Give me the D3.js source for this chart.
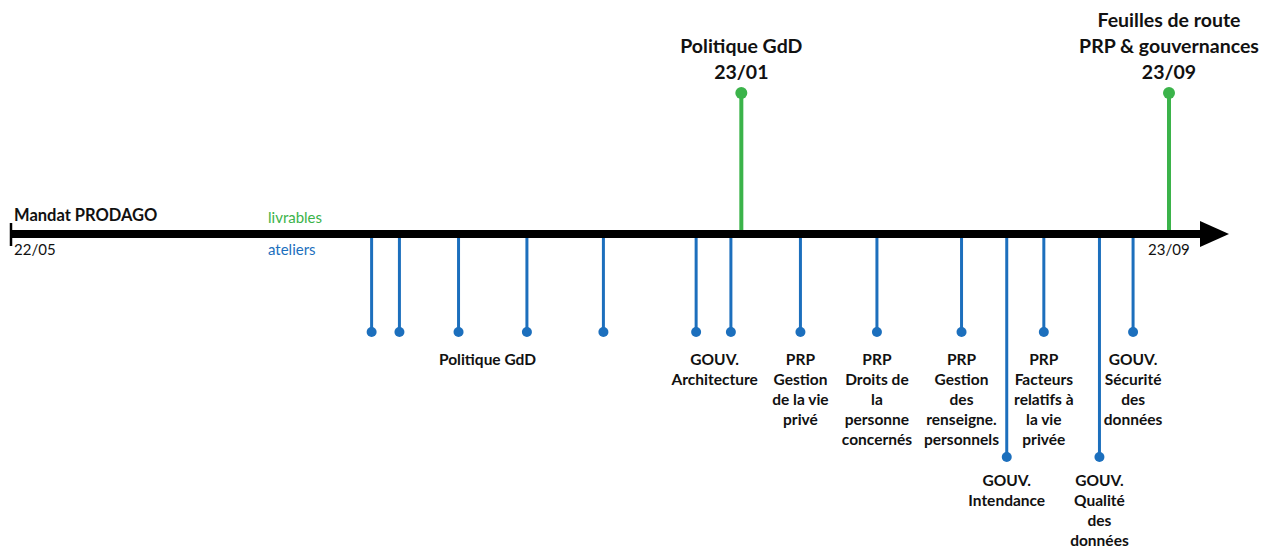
<!DOCTYPE html>
<html>
<head>
<meta charset="utf-8">
<script src="https://cdn.jsdelivr.net/npm/d3@7"></script>
<style>
    body { margin: 0; background: #fff; }
    svg text { font-family: Lato, "Open Sans", sans-serif; font-weight: bold; fill: #111; }
</style>
</head>
<body>
<div id="chart"></div>
<script>
// positions along the project timeline, 0 = start (22/05), 100 = end (23/09)
const ateliersPos = [31.2, 33.6, 38.7, 44.6, 51.2, 59.2, 62.2, 68.2, 74.8, 82.1, 86.0, 89.2, 94.0, 96.9];
const ateliersLong = [false, false, false, false, false, false, false, false, false, false, true, false, true, false];
const atelierLabels = [
    [], [], ['Politique GdD'], [], [],
    ['GOUV.', 'Architecture'], [],
    ['PRP', 'Gestion', 'de la vie', 'privé'],
    ['PRP', 'Droits de', 'la', 'personne', 'concernés'],
    ['PRP', 'Gestion', 'des', 'renseigne.', 'personnels'],
    ['GOUV.', 'Intendance'],
    ['PRP', 'Facteurs', 'relatifs à', 'la vie', 'privée'],
    ['GOUV.', 'Qualité', 'des', 'données'],
    ['GOUV.', 'Sécurité', 'des', 'données'],
];
// label centre (in timeline units) where the text is not under its own stem
const atelierLabelPos = [null, null, 41.2, null, null, 60.8, null, 68.2, 74.8, 82.1, 86.0, 89.2, 94.0, 96.9];

const livrablesPos = [63.1, 100];
const livrableLabels = [
    ['Politique GdD', '23/01'],
    ['Feuilles de route', 'PRP & gouvernances', '23/09'],
];
const startLabel = '22/05';
const endLabel = '23/09';

const W = 1270, H = 548;
const BLUE = '#1c6fbd', GREEN = '#3bb34a';
const axisY = 234;

const x = d3.scaleLinear().domain([0, 100]).range([10, 1169]);

const svg = d3.select('#chart').append('svg')
    .attr('width', W)
    .attr('height', H);

// main arrow
svg.append('line')
    .attr('x1', x(0)).attr('x2', 1205)
    .attr('y1', axisY).attr('y2', axisY)
    .attr('stroke', '#000').attr('stroke-width', 8);
svg.append('path')
    .attr('d', `M1200,${axisY - 13} L1229,${axisY} L1200,${axisY + 13} Z`)
    .attr('fill', '#000');
svg.append('line')
    .attr('x1', x(0) + 1).attr('x2', x(0) + 1)
    .attr('y1', axisY - 11).attr('y2', axisY + 12)
    .attr('stroke', '#000').attr('stroke-width', 2.5);

svg.append('text').attr('x', 14).attr('y', 221).attr('font-size', 16.5).text('Mandat PRODAGO');
svg.append('text').attr('x', 14).attr('y', 255).attr('font-size', 15).style('font-weight', 'normal').text(startLabel);
svg.append('text').attr('x', 1148).attr('y', 255).attr('font-size', 15).style('font-weight', 'normal').text(endLabel);
svg.append('text').attr('x', 268).attr('y', 223).attr('font-size', 15)
    .style('font-weight', 'normal').style('fill', GREEN).text('livrables');
svg.append('text').attr('x', 268).attr('y', 255).attr('font-size', 15)
    .style('font-weight', 'normal').style('fill', BLUE).text('ateliers');

// ateliers (below)
const at = svg.append('g').selectAll('g')
    .data(ateliersPos.map((p, i) => ({ p, long: ateliersLong[i], lines: atelierLabels[i], lp: atelierLabelPos[i] })))
    .enter().append('g');

at.append('line')
    .attr('x1', d => x(d.p)).attr('x2', d => x(d.p))
    .attr('y1', axisY + 4).attr('y2', d => d.long ? 457 : 332)
    .attr('stroke', BLUE).attr('stroke-width', 3);
at.append('circle')
    .attr('cx', d => x(d.p)).attr('cy', d => d.long ? 457 : 332)
    .attr('r', 5).attr('fill', BLUE);
at.append('text')
    .attr('text-anchor', 'middle')
    .attr('font-size', 15.5)
    .selectAll('tspan')
    .data(d => d.lines.map((t, j) => ({ t, j, d })))
    .enter().append('tspan')
    .attr('x', e => x(e.d.lp === null ? e.d.p : e.d.lp))
    .attr('y', e => (e.d.long ? 486 : 365) + e.j * 20)
    .text(e => e.t);

// livrables (above)
const lv = svg.append('g').selectAll('g')
    .data(livrablesPos.map((p, i) => ({ p, lines: livrableLabels[i] })))
    .enter().append('g');

lv.append('line')
    .attr('x1', d => x(d.p)).attr('x2', d => x(d.p))
    .attr('y1', axisY - 4).attr('y2', 93)
    .attr('stroke', GREEN).attr('stroke-width', 4);
lv.append('circle')
    .attr('cx', d => x(d.p)).attr('cy', 93)
    .attr('r', 6).attr('fill', GREEN);
lv.append('text')
    .attr('text-anchor', 'middle')
    .attr('font-size', 19.5)
    .selectAll('tspan')
    .data(d => d.lines.map((t, j) => ({ t, j, n: d.lines.length, p: d.p })))
    .enter().append('tspan')
    .attr('x', e => x(e.p))
    .attr('y', e => 79 - (e.n - 1 - e.j) * 26)
    .text(e => e.t);
</script>
</body>
</html>
